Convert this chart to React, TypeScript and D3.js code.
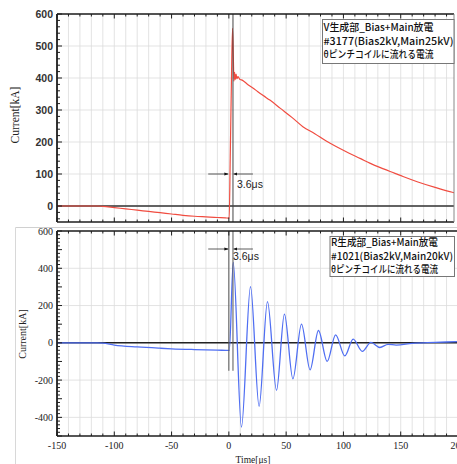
import React from "react";
import * as d3 from "d3";

// ---- Data ----
const xTicks = [-150, -100, -50, 0, 50, 100, 150, 200];
const topYTicks = [0, 100, 200, 300, 400, 500, 600];
const botYTicks = [-400, -200, 0, 200, 400, 600];

// V generator (top, red)
const redT = [-150, -115, -110, -100, -90, -80, -70, -60, -50, -40, -30, -20, -10, -3, 0.3, 1.2, 2.2, 3.2, 3.9, 4.4, 5.0, 5.6, 6.3, 7.0, 8.0, 9.5, 11, 13, 15.4, 18, 21.3, 25, 30, 35.8, 45, 55, 64.6, 75, 85, 94, 105, 115, 123, 135, 145, 152, 165, 180, 195, 200];
const redI = [0, 0, -1, -5, -9, -13, -17, -21, -25, -29, -32, -34, -36, -37, -38, 150, 380, 555, 470, 390, 418, 395, 412, 398, 404, 396, 394, 390, 383, 376, 368, 358, 345, 331, 305, 277, 248, 226, 203, 185, 165, 148, 134, 116, 102, 92, 75, 58, 43, 40];

// R generator (bottom, blue)
const blueT = [-150, -115, -110, -100, -80, -60, -50, -30, -10, 0.4, 3.8, 11, 18.9, 26.4, 33.7, 41.6, 48.5, 55.9, 63.4, 70.9, 78.2, 85.8, 93.2, 101.2, 108.5, 116.5, 124, 131.8, 139, 146, 160, 180, 200];
const blueI = [0, 0, -2, -12, -22, -29, -32, -36, -39, -41, 432, -452, 302, -341, 221, -255, 154, -193, 100, -145, 66, -100, 43, -70, 20, -46, 2, -25, -8, -12, -3, 2, 7];

const markerT = 3.6;
const topLegend = ["V生成部_Bias+Main放電", "#3177(Bias2kV,Main25kV)", "θピンチコイルに流れる電流"];
const botLegend = ["R生成部_Bias+Main放電", "#1021(Bias2kV,Main20kV)", "θピンチコイルに流れる電流"];

const W = 457, H = 464;

export default function App() {
  const x = d3.scaleLinear().domain([-150, 200]).range([57, 458]);
  const yT = d3.scaleLinear().domain([-50, 600]).range([222, 14]);
  const yB = d3.scaleLinear().domain([-500, 600]).range([436, 231]);

  const topR = 454;
  const botR = 458;

  const redLine = d3.line<number>().x((_, i) => x(redT[i])).y((d) => yT(d)).curve(d3.curveMonotoneX)(redI) || "";
  const blueLine = d3.line<number>().x((_, i) => x(blueT[i])).y((d) => yB(d)).curve(d3.curveMonotoneX)(blueI) || "";

  const gridX = d3.range(-150, 201, 10);
  const serif = "'Liberation Serif', 'DejaVu Serif', serif";
  const sans = "'Liberation Sans', Arial, sans-serif";
  const cjk = "'Noto Sans CJK JP', 'Noto Sans', sans-serif";

  const frameColor = "#1e1e1e";

  const xTickMarks = (yEdge: number, dir: number, right: number, key: string) =>
    gridX.filter((t) => x(t) <= right + 0.5).map((t) => (
      <line key={key + t} x1={x(t)} x2={x(t)} y1={yEdge} y2={yEdge + dir * (t % 50 === 0 ? 4.5 : 2.5)} stroke={frameColor} strokeWidth={1} />
    ));

  const yTickMarks = (scale: any, lo: number, hi: number, step: number, major: number, key: string) =>
    d3.range(lo, hi + 1, step).map((v) => (
      <line key={key + v} x1={57} x2={57 + (v % major === 0 ? 5 : 3)} y1={scale(v)} y2={scale(v)} stroke={frameColor} strokeWidth={1} />
    ));

  return (
    <svg width={W} height={H} style={{ position: "absolute", left: 0, top: 0, background: "#fff" }}>
      <defs>
        <clipPath id="clipTop"><rect x={57} y={14} width={topR - 57} height={222 - 14} /></clipPath>
        <clipPath id="clipBot"><rect x={57} y={231} width={botR - 57} height={436 - 231} /></clipPath>
        <marker id="arr" viewBox="0 0 10 10" refX={10} refY={5} markerWidth={5} markerHeight={5} orient="auto">
          <path d="M0,1 L10,5 L0,9 Z" fill="#111" />
        </marker>
      </defs>
      <rect x={0} y={0} width={W} height={H} fill="#fff" />

      {/* ===== Top panel ===== */}
      <g>
        {gridX.filter((t) => x(t) < topR - 1).map((t) => (
          <line key={"gxt" + t} x1={x(t)} x2={x(t)} y1={14} y2={222} stroke="#dcdcdc" strokeWidth={0.8} />
        ))}
        {topYTicks.map((v) => (
          <line key={"gyt" + v} x1={57} x2={topR} y1={yT(v)} y2={yT(v)} stroke="#dcdcdc" strokeWidth={0.8} />
        ))}
        <line x1={57} x2={topR} y1={yT(0)} y2={yT(0)} stroke="#333" strokeWidth={1.5} />
        <g clipPath="url(#clipTop)">
          <path d={redLine} fill="none" stroke="#f04c40" strokeWidth={1.2} />
        </g>
        <line x1={x(markerT)} x2={x(markerT)} y1={14} y2={222} stroke="#444" strokeWidth={1} />
        {/* frame */}
        <line x1={57} x2={topR} y1={14} y2={14} stroke={frameColor} strokeWidth={1.5} />
        <line x1={57} x2={topR} y1={222} y2={222} stroke={frameColor} strokeWidth={1.5} />
        <line x1={57} x2={57} y1={14} y2={222} stroke={frameColor} strokeWidth={1.8} />
        <line x1={topR} x2={topR} y1={14} y2={222} stroke="#888" strokeWidth={1} />
        {xTickMarks(14, 1, topR, "tt")}
        {xTickMarks(222, -1, topR, "tb")}
        {yTickMarks(yT, -40, 600, 20, 100, "ty")}
        {topYTicks.map((v) => (
          <text key={"tl" + v} x={53} y={yT(v)} dy="0.35em" textAnchor="end" fontFamily={sans} fontSize={10.5} fontWeight={600} fill="#333">{v}</text>
        ))}
        <text transform={`translate(15,115) rotate(-90)`} textAnchor="middle" dy="0.35em" fontFamily={serif} fontSize={11.5} fill="#222">Current[kA]</text>
        {/* marker arrows */}
        <line x1={x(-18)} x2={x(0) - 0.5} y1={yT(100)} y2={yT(100)} stroke="#333" strokeWidth={0.8} markerEnd="url(#arr)" />
        <line x1={x(21)} x2={x(markerT) + 0.5} y1={yT(100)} y2={yT(100)} stroke="#333" strokeWidth={0.8} markerEnd="url(#arr)" />
        <text x={237} y={188} fontFamily={sans} fontSize={10.5} fill="#222">3.6μs</text>
        {/* legend */}
        <rect x={322.5} y={19.5} width={topR - 322.5} height={44} fill="#fff" stroke="#777" strokeWidth={1} />
        {topLegend.map((s, i) => (
          <text key={"tlg" + i} x={323.5} y={31 + i * 13.6} fontFamily={cjk} fontSize={10} fontWeight={500} fill="#111" textLength={[110, 130, 110][i]} lengthAdjust="spacingAndGlyphs">{s}</text>
        ))}
      </g>

      {/* separator */}
      <line x1={15.5} x2={W} y1={227.5} y2={227.5} stroke="#d0d0d0" strokeWidth={1} />
      <line x1={15.5} x2={15.5} y1={227.5} y2={H} stroke="#d8d8d8" strokeWidth={1} />

      {/* ===== Bottom panel ===== */}
      <g>
        {gridX.map((t) => (
          <line key={"gxb" + t} x1={x(t)} x2={x(t)} y1={231} y2={436} stroke="#dcdcdc" strokeWidth={0.8} />
        ))}
        {botYTicks.map((v) => (
          <line key={"gyb" + v} x1={57} x2={botR} y1={yB(v)} y2={yB(v)} stroke="#dcdcdc" strokeWidth={0.8} />
        ))}
        <line x1={57} x2={botR} y1={yB(0)} y2={yB(0)} stroke="#222" strokeWidth={1.5} />
        <g clipPath="url(#clipBot)">
          <path d={blueLine} fill="none" stroke="#4f6ef2" strokeWidth={1.3} />
        </g>
        <line x1={x(0)} x2={x(0)} y1={231} y2={yB(-150)} stroke="#555" strokeWidth={1} />
        <line x1={x(markerT)} x2={x(markerT)} y1={231} y2={yB(-150)} stroke="#555" strokeWidth={1} />
        <line x1={57} x2={botR} y1={231} y2={231} stroke={frameColor} strokeWidth={1.5} />
        <line x1={57} x2={botR} y1={436} y2={436} stroke={frameColor} strokeWidth={1.5} />
        <line x1={57} x2={57} y1={231} y2={436} stroke={frameColor} strokeWidth={1.8} />
        {xTickMarks(231, 1, botR, "bt")}
        {xTickMarks(436, -1, botR, "bb")}
        {yTickMarks(yB, -500, 600, 20, 100, "by")}
        {botYTicks.map((v) => (
          <text key={"bl" + v} x={53} y={yB(v)} dy="0.35em" textAnchor="end" fontFamily={serif} fontSize={10} fill="#222">{v}</text>
        ))}
        {xTicks.map((t) => (
          <text key={"bx" + t} x={x(t)} y={449} textAnchor="middle" fontFamily={serif} fontSize={10} fill="#222">{t}</text>
        ))}
        <text transform={`translate(22,334) rotate(-90)`} textAnchor="middle" dy="0.35em" fontFamily={serif} fontSize={10} fill="#222">Current[kA]</text>
        <text x={253} y={463} textAnchor="middle" fontFamily={serif} fontSize={9.5} fill="#222">Time[μs]</text>
        <line x1={x(-18)} x2={x(0) - 0.5} y1={249} y2={249} stroke="#333" strokeWidth={0.8} markerEnd="url(#arr)" />
        <line x1={x(21)} x2={x(markerT) + 0.5} y1={249} y2={249} stroke="#333" strokeWidth={0.8} markerEnd="url(#arr)" />
        <text x={233} y={260} fontFamily={sans} fontSize={10.5} fill="#222">3.6μs</text>
        <rect x={330} y={236.5} width={454.5 - 330} height={40} fill="#fff" stroke="#777" strokeWidth={1} />
        {botLegend.map((s, i) => (
          <text key={"blg" + i} x={331} y={246 + i * 13.6} fontFamily={cjk} fontSize={10} fontWeight={500} fill="#111" textLength={[107, 122, 107][i]} lengthAdjust="spacingAndGlyphs">{s}</text>
        ))}
      </g>
    </svg>
  );
}
